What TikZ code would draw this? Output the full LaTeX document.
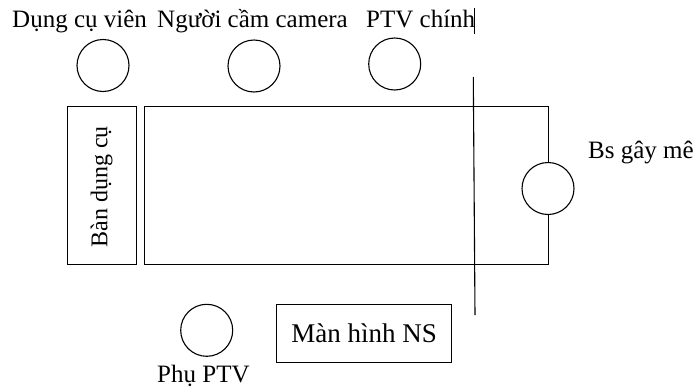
\documentclass[tikz,border=0pt]{standalone}
\usepackage{fontspec}
\setmainfont{Liberation Serif}
\begin{document}
\begin{tikzpicture}[x=1pt,y=-1pt,
  person/.style={draw,circle,minimum size=52pt,inner sep=0pt,line width=1.1pt,fill=white},
  lbl/.style={anchor=base west,inner sep=0pt,font=\fontsize{25}{28}\selectfont},
  boxline/.style={draw,line width=1.1pt}]
\useasboundingbox (0,0) rectangle (694,386);
% table and bench
\node[boxline,minimum width=68.7pt,minimum height=158pt,inner sep=0pt,anchor=north west] (ban) at (67.3,106) {};
\node[rotate=90,inner sep=0pt,font=\fontsize{24}{28}\selectfont] (bantxt) at (101.7,187) {Bàn dụng cụ};
\node[boxline,minimum width=403.4pt,minimum height=158pt,inner sep=0pt,anchor=north west] (table) at (144.3,106) {};
% sterile line
\coordinate (lt) at (473.3,77);
\coordinate (lb) at (475,315);
\draw[line width=1.1pt] (lt) -- (lb);
% persons
\node[person] (dcv) at (103,65.5) {};
\node[person] (cam) at (254,66) {};
\node[person] (ptv) at (394.7,64) {};
\node[person] (bs) at (548,188.5) {};
\node[person] (phu) at (206.7,330.3) {};
% screen
\node[boxline,minimum width=175pt,minimum height=58pt,inner sep=0pt,font=\fontsize{27}{30}\selectfont] (mh) at (364.2,333.3) {Màn hình NS};
% labels
\node[lbl] (t1) at (12,27) {Dụng cụ viên};
\node[lbl] (t2) at (157,27) {Người cầm camera};
\node[lbl] (t3) at (366,27) {PTV chính};
\node[lbl] (t4) at (588,158) {Bs gây mê};
\node[lbl] (t5) at (157,382) {Phụ PTV};
% text cursor bar
\coordinate (c1) at (474,8);
\coordinate (c2) at (474,34);
\draw[line width=1pt] (c1) -- (c2);
\end{tikzpicture}
\end{document}
